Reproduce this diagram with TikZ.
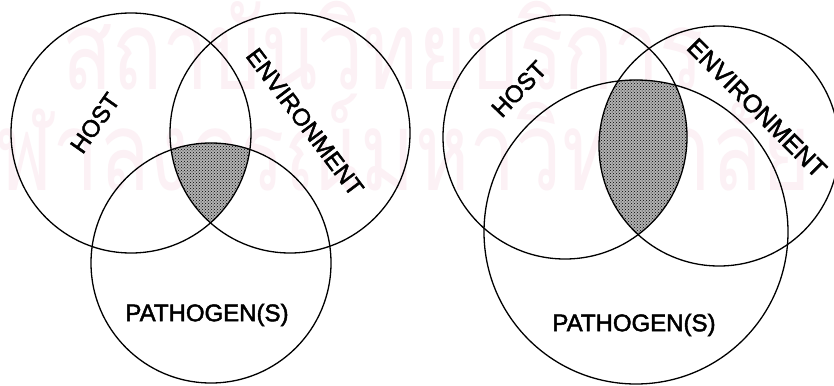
\documentclass[tikz,border=0pt]{standalone}
\usepackage{fontspec}
\setmainfont{Liberation Sans}
\newfontfamily\lblfont[FakeBold=2]{Liberation Sans}
\newfontfamily\thaiwm[Script=Thai]{Loma}
\usetikzlibrary{patterns}
\definecolor{wmpink}{RGB}{252,241,245}
\tikzset{
  ring/.style={draw=black, line width=1.3pt},
  lbl/.style={font=\lblfont\fontsize{24}{24}\selectfont, inner sep=0pt},
  shade/.style={fill=black!30},
  dotsfill/.style={pattern=crosshatch dots, pattern color=black},
  wm/.style={text=wmpink, font=\thaiwm\fontsize{110}{110}\selectfont, inner sep=0pt, xscale=0.75}
}
\begin{document}
\begin{tikzpicture}[x=1pt,y=-1pt]
\useasboundingbox (0,0) rectangle (834,385);
\fill[white] (0,0) rectangle (834,385);
% watermark
\node[wm, anchor=base west] (wma) at (62,90) {สถาบันวิทยบริการ};
\node[wm, anchor=base west] (wmb) at (-52,190) {จุฬาลงกรณ์มหาวิทยาลัย};
% ---- left diagram ----
\begin{scope}
  \clip (131,133) circle (120);
  \clip (290,133) circle (120);
  \path[shade] (211,263) circle (120);
  \path[dotsfill] (211,263) circle (120);
\end{scope}
\draw[ring] (131,133) circle (120);
\draw[ring] (290,133) circle (120);
\draw[ring] (211,263) circle (120);
\node[lbl, rotate=55] (host1) at (95,123) {HOST};
\node[lbl, rotate=-53] (env1) at (305,122) {ENVIRONMENT};
\node[lbl] (path1) at (207,315) {PATHOGEN(S)};
% ---- right diagram ----
\begin{scope}
  \clip (565,137) circle (122);
  \clip (719,146) circle (120);
  \path[shade] (636,232) circle (152);
  \path[dotsfill] (636,232) circle (152);
\end{scope}
\draw[ring] (565,137) circle (122);
\draw[ring] (719,146) circle (120);
\draw[ring] (636,232) circle (152);
\node[lbl, rotate=46] (host2) at (519,89) {HOST};
\node[lbl, rotate=-45, font=\lblfont\fontsize{25}{25}\selectfont] (env2) at (757,108) {ENVIRONMENT};
\node[lbl] (path2) at (634,325) {PATHOGEN(S)};
\end{tikzpicture}
\end{document}
